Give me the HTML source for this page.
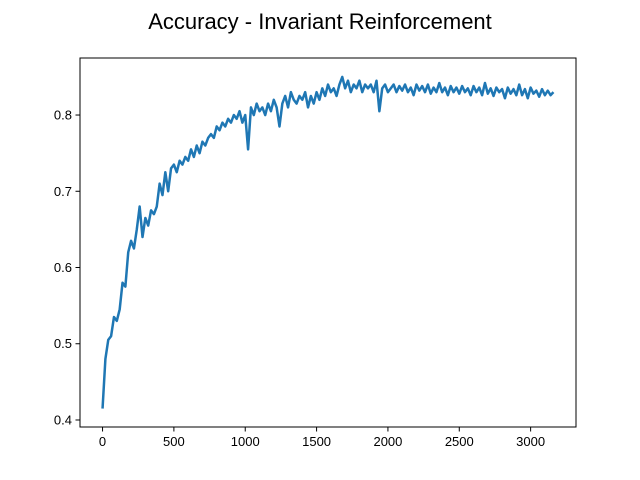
<!DOCTYPE html>
<html><head><meta charset="utf-8"><style>
body{margin:0;background:#fff;}
svg{display:block;font-family:"Liberation Sans","DejaVu Sans",sans-serif;}
</style></head><body>
<svg id="chart" width="640" height="480" xmlns="http://www.w3.org/2000/svg">
<rect width="640" height="480" fill="#fff"/>
<text x="320" y="29" text-anchor="middle" font-size="22" fill="#000">Accuracy - Invariant Reinforcement</text>
<g id="xticks"></g>
<g id="yticks"></g>
<g id="plot"></g>
<rect x="80" y="58" width="496" height="369" fill="none" stroke="#000" stroke-width="1"/>
</svg>
<script>
const xStep = 20;
const accuracy = [0.415,0.48,0.505,0.51,0.535,0.53,0.545,0.58,0.575,0.62,0.635,0.625,0.65,0.68,0.64,0.665,0.655,0.675,0.67,0.68,0.71,0.695,0.725,0.70,0.73,0.735,0.725,0.74,0.735,0.745,0.74,0.755,0.745,0.76,0.75,0.765,0.76,0.77,0.775,0.77,0.785,0.78,0.79,0.785,0.795,0.79,0.80,0.795,0.805,0.79,0.80,0.755,0.81,0.80,0.815,0.805,0.81,0.80,0.815,0.805,0.82,0.81,0.785,0.815,0.825,0.81,0.83,0.82,0.815,0.825,0.82,0.83,0.81,0.825,0.815,0.83,0.82,0.835,0.825,0.84,0.83,0.835,0.825,0.84,0.85,0.835,0.845,0.83,0.84,0.835,0.845,0.83,0.84,0.835,0.84,0.83,0.845,0.805,0.835,0.84,0.83,0.835,0.84,0.83,0.838,0.832,0.84,0.83,0.836,0.826,0.84,0.832,0.838,0.83,0.84,0.828,0.836,0.83,0.842,0.83,0.836,0.826,0.838,0.83,0.836,0.828,0.838,0.83,0.835,0.826,0.838,0.83,0.836,0.826,0.842,0.828,0.835,0.825,0.836,0.83,0.834,0.822,0.836,0.828,0.834,0.826,0.84,0.826,0.834,0.822,0.836,0.828,0.832,0.824,0.834,0.826,0.832,0.826,0.83];
const xTickLabels = ["0","500","1000","1500","2000","2500","3000"];
const yTickLabels = ["0.4","0.5","0.6","0.7","0.8"];
const yDomain = [0.3908, 0.8748];

const NS = "http://www.w3.org/2000/svg";
const L=80,R=576,T=58,B=427;
const xMaxData = (accuracy.length-1)*xStep;
const xMin = -0.05*xMaxData, xMax = xMaxData*1.05;
const yMin = yDomain[0], yMax = yDomain[1];
const xs = v => L+(v-xMin)/(xMax-xMin)*(R-L);
const ys = v => B-(v-yMin)/(yMax-yMin)*(B-T);

const xg=document.getElementById('xticks');
xTickLabels.forEach(t=>{
  const x=xs(parseFloat(t));
  const ln=document.createElementNS(NS,'line');
  ln.setAttribute('x1',x);ln.setAttribute('x2',x);ln.setAttribute('y1',B);ln.setAttribute('y2',B+4.5);ln.setAttribute('stroke','#000');
  
  
  xg.appendChild(ln);
  const tx=document.createElementNS(NS,'text');
  tx.setAttribute('x',x);tx.setAttribute('y',B+19);tx.setAttribute('text-anchor','middle');tx.setAttribute('font-size','13');
  tx.textContent=t;
  
  
  xg.appendChild(tx);
});
const yg=document.getElementById('yticks');
yTickLabels.forEach(t=>{
  const y=ys(parseFloat(t));
  const ln=document.createElementNS(NS,'line');
  ln.setAttribute('x1',L-4.5);ln.setAttribute('x2',L);ln.setAttribute('y1',y);ln.setAttribute('y2',y);ln.setAttribute('stroke','#000');
  
  
  yg.appendChild(ln);
  const tx=document.createElementNS(NS,'text');
  tx.setAttribute('x',L-8);tx.setAttribute('y',y+4.5);tx.setAttribute('text-anchor','end');tx.setAttribute('font-size','13');
  tx.textContent=t;
  
  
  yg.appendChild(tx);
});
const p=document.createElementNS(NS,'polyline');
p.setAttribute('points',accuracy.map((v,i)=>xs(i*xStep).toFixed(2)+','+ys(v).toFixed(2)).join(' '));
p.setAttribute('fill','none');p.setAttribute('stroke','#1f77b4');p.setAttribute('stroke-width','2.5');p.setAttribute('stroke-linejoin','round');


document.getElementById('plot').appendChild(p);
</script>
</body></html>
